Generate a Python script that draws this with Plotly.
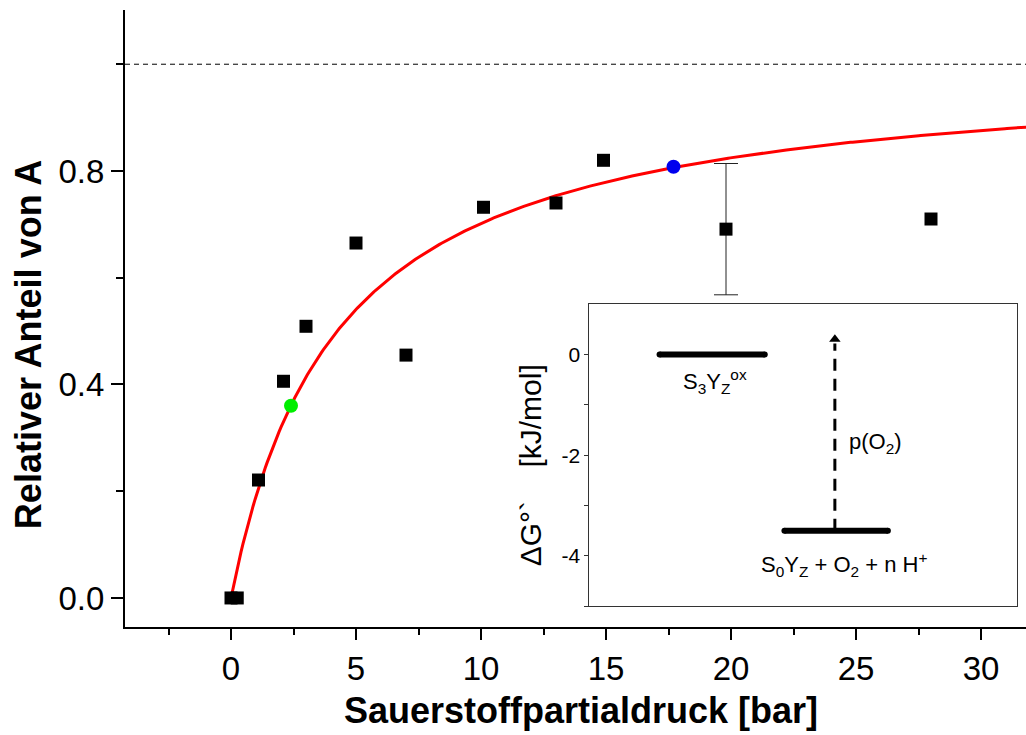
import numpy as np
import plotly.graph_objects as go

# Measured fractions of state A vs. oxygen partial pressure
pressure = [0.0, 0.25, 1.1, 2.1, 3.0, 5.0, 7.0, 10.1, 13.0, 14.9, 19.8, 28.0]
fraction_a = [0.0, 0.0, 0.221, 0.406, 0.509, 0.665, 0.455, 0.732, 0.740, 0.820, 0.691, 0.710]

# Point with a reported uncertainty
err_p = [19.8]
err_f = [0.691]
err_val = [0.123]

# Hyperbolic saturation fit  f(p) = p / (K + p)
K_half = 4.25
fit_p = np.linspace(0.0, 32.0, 400)
fit_f = fit_p / (K_half + fit_p)

# Highlighted points on the fit curve
green_p, green_f = [2.4], [0.36]
blue_p, blue_f = [17.7], [0.808]

# Energy-level inset
dg_upper = 0.0
dg_lower = -3.5
arrow_top = 0.3

FONT = "Liberation Sans, Arial, sans-serif"

fig = go.Figure()

fig.add_trace(go.Scatter(
    x=fit_p, y=fit_f, mode="lines",
    line=dict(color="#ff0000", width=3), hoverinfo="skip", showlegend=False))

fig.add_trace(go.Scatter(
    x=err_p, y=err_f, mode="markers",
    marker=dict(symbol="square", size=13, color="black", opacity=0),
    error_y=dict(type="data", array=err_val, visible=True,
                 color="#222", thickness=1, width=12),
    showlegend=False, hoverinfo="skip"))

fig.add_trace(go.Scatter(
    x=pressure, y=fraction_a, mode="markers",
    marker=dict(symbol="square", size=13, color="black", line=dict(width=0)),
    showlegend=False))

fig.add_trace(go.Scatter(
    x=green_p, y=green_f, mode="markers",
    marker=dict(symbol="circle", size=14, color="#00ee00"), showlegend=False))
fig.add_trace(go.Scatter(
    x=blue_p, y=blue_f, mode="markers",
    marker=dict(symbol="circle", size=14, color="#0000ee"), showlegend=False))

# Inset: two free-energy levels and the p(O2) arrow
level_kw = dict(mode="lines+markers", line=dict(color="black", width=6),
                marker=dict(size=6, color="black"), showlegend=False,
                xaxis="x2", yaxis="y2", hoverinfo="skip")
fig.add_trace(go.Scatter(x=[0.164, 0.41], y=[dg_upper, dg_upper], **level_kw))
fig.add_trace(go.Scatter(x=[0.456, 0.698], y=[dg_lower, dg_lower], **level_kw))
fig.add_trace(go.Scatter(
    x=[0.574, 0.574], y=[dg_lower, arrow_top - 0.08], mode="lines",
    line=dict(color="black", width=3, dash="12px,8px"),
    xaxis="x2", yaxis="y2", showlegend=False, hoverinfo="skip"))
fig.add_trace(go.Scatter(
    x=[0.574], y=[arrow_top], mode="markers",
    marker=dict(symbol="triangle-up", size=10, color="black"),
    xaxis="x2", yaxis="y2", showlegend=False, hoverinfo="skip"))

# Saturation limit
fig.add_shape(type="line", xref="paper", yref="y", x0=0, x1=1, y0=1.0, y1=1.0,
              line=dict(color="black", width=1, dash="5px,4px"))

axis_common = dict(showgrid=False, zeroline=False, showline=True,
                   linecolor="black", linewidth=2, ticks="outside",
                   tickcolor="black", tickwidth=2,
                   tickfont=dict(family=FONT, size=33, color="black"))

fig.update_layout(
    width=1026, height=735,
    margin=dict(l=125, r=0, t=10, b=108),
    paper_bgcolor="white", plot_bgcolor="white",
    xaxis=dict(range=[-4.24, 31.8], tick0=0, dtick=5, ticklen=11,
               minor=dict(dtick=2.5, tick0=0, ticks="outside", ticklen=6,
                          tickcolor="black", tickwidth=2),
               **axis_common),
    yaxis=dict(range=[-0.0544, 1.1016], tick0=0, dtick=0.4, tickformat=".1f",
               ticklen=12,
               minor=dict(dtick=0.2, tick0=0, ticks="outside", ticklen=7,
                          tickcolor="black", tickwidth=2),
               **axis_common),
    xaxis2=dict(domain=[0.5155, 0.990], range=[0, 1], anchor="y2",
                showgrid=False, zeroline=False, showline=True, mirror=True,
                linecolor="#333", linewidth=1, ticks="", showticklabels=False),
    yaxis2=dict(domain=[0.0336, 0.5233], range=[-5, 1], anchor="x2",
                showgrid=False, zeroline=False, showline=True, mirror=True,
                linecolor="#333", linewidth=1, ticks="outside", ticklen=4,
                tickcolor="#333", tickwidth=1,
                tickvals=[0, -2, -4], ticktext=["0", "-2", "-4"],
                minor=dict(tickvals=[-1, -3, -5], ticks="outside", ticklen=4,
                           tickcolor="#333", tickwidth=1),
                tickfont=dict(family=FONT, size=21, color="black")),
    showlegend=False,
)

ann_font = dict(family=FONT, size=22, color="black")
annotations = [
    dict(text="Sauerstoffpartialdruck [bar]", xref="paper", yref="paper",
         x=0.506, y=-0.135, showarrow=False, xanchor="center", yanchor="middle",
         font=dict(family=FONT, size=36, color="black", weight="bold")),
    dict(text="Relativer Anteil von A", xref="paper", yref="paper",
         x=-0.1077, y=0.4584, textangle=-90, showarrow=False,
         xanchor="center", yanchor="middle",
         font=dict(family=FONT, size=36, color="black", weight="bold")),
    dict(text="ΔG°`\u00a0\u00a0\u00a0\u00a0[kJ/mol]", xref="paper", yref="y2",
         x=(530 - 125) / 901, y=-2.2, textangle=-90, showarrow=False,
         xanchor="center", yanchor="middle",
         font=dict(family=FONT, size=30, color="black")),
    dict(text="S<sub>3</sub>Y<sub>Z</sub><sup>ox</sup>", xref="x2", yref="y2",
         x=0.293, y=-0.54, showarrow=False, font=ann_font),
    dict(text="S<sub>0</sub>Y<sub>Z</sub> + O<sub>2</sub> + n H<sup>+</sup>",
         xref="x2", yref="y2", x=0.595, y=-4.17, showarrow=False, font=ann_font),
    dict(text="p(O<sub>2</sub>)", xref="x2", yref="y2",
         x=0.67, y=-1.76, showarrow=False, font=ann_font),
]
fig.update_layout(annotations=annotations)

fig.write_html("out.html")
